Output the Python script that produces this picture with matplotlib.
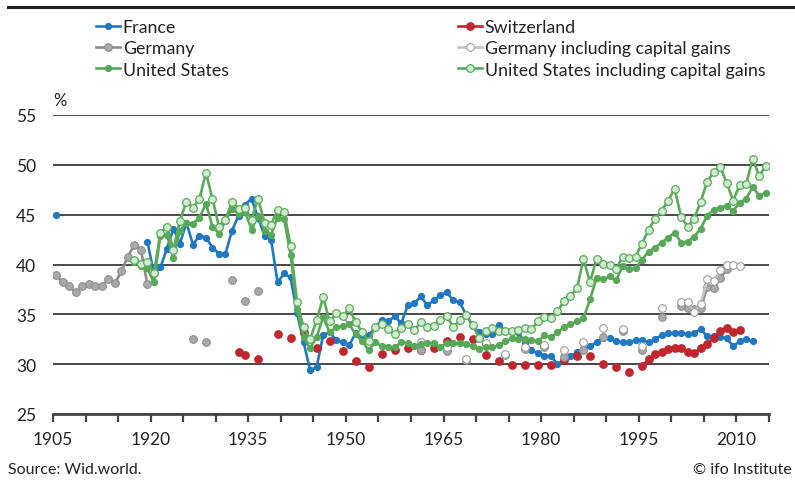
import numpy as np
import pandas as pd
import matplotlib
matplotlib.use('Agg')
import matplotlib.pyplot as plt
from matplotlib.lines import Line2D

plt.rcParams['font.family'] = ['Lato', 'DejaVu Sans']

# Top 10% income share (%)
fr_years = [1905] + list(range(1919, 2013))
fr_vals = [45.0,
           42.3, 39.1, 39.7, 41.6, 43.6, 42.1, 44.2, 42.0, 42.9, 42.7,
           41.7, 41.1, 41.1, 43.4, 44.9, 46.0, 46.6, 44.7, 42.9, 42.5,
           38.2, 39.1, 38.7, 35.1, 32.2, 29.4, 29.7, 32.9, 33.2, 32.4,
           32.2, 31.9, 33.1, 32.7, 32.9, 33.7, 34.4, 34.3, 34.8, 34.1,
           35.9, 36.1, 36.8, 35.9, 36.4, 36.9, 37.2, 36.4, 36.2, 34.9,
           33.8, 33.2, 33.0, 33.0, 33.9, 33.3, 33.3, 33.2, 32.1, 31.4,
           31.1, 30.8, 30.8, 30.0, 30.4, 30.8, 31.2, 31.5, 31.8, 32.2,
           32.6, 32.6, 32.3, 32.2, 32.2, 32.4, 32.4, 32.2, 32.5, 32.9,
           33.1, 33.1, 33.1, 33.0, 33.1, 33.5, 32.8, 32.8, 32.7, 32.6,
           31.8, 32.3, 32.5, 32.3]

ch_years = [1933, 1934, 1936, 1939, 1941, 1943, 1945, 1947, 1949, 1951,
            1953, 1955, 1957, 1959, 1961, 1963, 1965, 1967, 1969, 1971,
            1973, 1975, 1977, 1979, 1981, 1983, 1985, 1987, 1989, 1991,
            1993] + list(range(1995, 2011))
ch_vals = [31.2, 30.9, 30.5, 33.0, 32.6, 33.2, 31.6, 32.3, 31.3, 30.3,
           29.7, 31.0, 31.4, 31.6, 31.4, 31.6, 32.3, 32.7, 32.5, 30.9,
           30.3, 29.9, 29.9, 29.9, 29.9, 30.4, 30.8, 30.8, 30.0, 29.7,
           29.2, 29.8, 30.5, 31.0, 31.2, 31.5, 31.6, 31.6, 31.2, 31.1,
           31.6, 32.0, 32.6, 33.3, 33.6, 33.2, 33.4]

de_years = list(range(1905, 1920)) + [1926, 1928, 1932, 1934, 1936, 1950,
            1961, 1965, 1968, 1971, 1974, 1977, 1980, 1983, 1986, 1989,
            1992, 1995, 1998] + list(range(2001, 2009))
de_vals = [38.9, 38.2, 37.8, 37.2, 37.8, 38.0, 37.8, 37.8, 38.5, 38.1,
           39.3, 40.8, 42.0, 41.5, 38.0,
           32.5, 32.2, 38.4, 36.3, 37.3, 34.5,
           31.4, 31.3, 30.4, 32.0, 30.9, 31.5, 31.7, 30.7, 31.4, 32.7,
           33.3, 31.4, 34.7,
           35.8, 35.6, 35.5, 35.6, 37.7, 37.6, 38.6, 39.5]

de_cg_years = [1950, 1961, 1965, 1968, 1971, 1974, 1977, 1980, 1983,
               1986, 1989, 1992, 1995, 1998] + list(range(2001, 2011))
de_cg_vals = [34.6, 32.2, 31.7, 30.5, 32.1, 31.0, 31.7, 31.9, 31.4,
              32.2, 33.6, 33.5, 31.8, 35.6,
              36.2, 36.2, 35.2, 36.0, 38.5, 38.3, 39.4, 40.0, 39.9, 39.8]

us_years = list(range(1917, 2015))
us_vals = [40.3, 39.8, 39.6, 38.2, 42.9, 43.0, 40.7, 43.4, 44.2, 44.1,
           44.7, 46.1, 43.8, 43.1, 44.4, 45.6, 45.1, 45.3, 43.5, 44.9,
           43.4, 43.0, 44.7, 44.6, 41.0, 35.5, 32.7, 31.6, 32.7, 34.7,
           33.2, 33.7, 33.8, 34.0, 33.0, 32.3, 31.4, 32.2, 31.8, 31.7,
           31.7, 32.2, 32.1, 31.8, 32.0, 32.1, 32.1, 31.7, 32.1, 32.1,
           32.1, 32.0, 31.8, 31.5, 31.7, 31.7, 31.9, 32.3, 32.6, 32.5,
           32.5, 32.4, 32.3, 32.9, 32.7, 33.2, 33.7, 34.0, 34.3, 34.6,
           36.5, 38.6, 38.5, 38.8, 38.4, 39.8, 39.5, 39.6, 40.5, 41.3,
           41.7, 42.2, 42.7, 43.2, 42.2, 42.3, 42.8, 43.6, 44.9, 45.5,
           45.7, 45.9, 45.4, 46.2, 46.6, 47.8, 46.9, 47.2]

us_cg_years = list(range(1917, 2015))
us_cg_vals = [40.5, 40.1, 40.3, 39.1, 43.2, 43.8, 41.5, 44.4, 46.3, 45.7,
              46.6, 49.2, 46.6, 43.8, 44.5, 46.3, 45.6, 45.7, 44.5, 46.6,
              44.2, 44.0, 45.5, 45.3, 41.9, 36.2, 33.7, 32.5, 34.4, 36.7,
              34.3, 35.1, 34.8, 35.6, 34.2, 33.2, 32.3, 33.7, 34.0, 33.5,
              33.0, 33.6, 34.0, 33.4, 34.2, 33.7, 33.8, 34.4, 34.8, 33.7,
              34.4, 34.9, 33.9, 32.6, 33.3, 33.6, 33.3, 33.3, 33.3, 33.4,
              33.6, 33.5, 34.3, 34.7, 34.6, 35.3, 36.3, 36.8, 37.6, 40.6,
              38.2, 40.6, 40.1, 40.0, 39.5, 40.8, 40.7, 40.8, 42.1, 43.5,
              44.6, 45.4, 46.4, 47.6, 44.8, 43.8, 44.6, 46.3, 48.3, 49.3,
              49.8, 48.2, 46.4, 48.0, 48.1, 50.6, 48.9, 49.9]


def annual(years, vals):
    # reindex to every year so that gaps break the line
    s = pd.Series(vals, index=years)
    s = s.reindex(range(min(years), max(years) + 1))
    return s.index.values, s.values


fig = plt.figure(figsize=(7.95, 4.81), dpi=100)
ax = fig.add_axes([53 / 795, 66 / 481, 716 / 795, 299 / 481])

series = [
    ('France', fr_years, fr_vals, dict(color='#1f78c1', mfc='#1f78c1', mec='#1f78c1', ms=4.2, lw=1.9)),
    ('Switzerland', ch_years, ch_vals, dict(color='#c0262d', mfc='#c0262d', mec='#c0262d', ms=5.3, lw=1.9)),
    ('Germany', de_years, de_vals, dict(color='#8c8c8c', mfc='#a9a9a9', mec='#8e8e8e', ms=5.5, lw=1.9, mew=0.8)),
    ('Germany including capital gains', de_cg_years, de_cg_vals, dict(color='#c4c4c4', mfc='white', mec='#9c9c9c', ms=5.5, lw=1.9, mew=0.8)),
    ('United States', us_years, us_vals, dict(color='#57a957', mfc='#57a957', mec='#57a957', ms=4.2, lw=1.9)),
    ('United States including capital gains', us_cg_years, us_cg_vals, dict(color='#5aab5a', mfc='#d3ebd3', mec='#5aab5a', ms=5.5, lw=1.9, mew=0.9)),
]

handles = {}
for i, (name, yrs, vals, st) in enumerate(series):
    x, y = annual(yrs, vals)
    ax.plot(x, y, marker='o', zorder=3 + i, **st)
    handles[name] = Line2D([], [], marker='o', **st)

ax.set_xlim(1904.5, 2014.5)
ax.set_ylim(25, 55)
ax.set_yticks([25, 30, 35, 40, 45, 50, 55])
ax.grid(axis='y', color='#3a3a3a', lw=1.3)
ax.set_axisbelow(True)
ax.tick_params(axis='y', length=0, pad=12, labelsize=12.5, labelcolor='#222222')

ax.set_xticks(np.arange(1904.5, 2015, 15))
ax.set_xticklabels([str(y) for y in range(1905, 2015, 15)])
ax.set_xticks(np.arange(1904.5, 2015, 5), minor=True)
ax.tick_params(axis='x', which='both', length=6, width=1.6, color='#444444',
               direction='out', pad=6, labelsize=12.5, labelcolor='#222222')

for side in ['top', 'right', 'left']:
    ax.spines[side].set_visible(False)
ax.spines['bottom'].set_color('#444444')
ax.spines['bottom'].set_linewidth(2)

fig.text(53 / 795, 1 - 101 / 481, '%', fontsize=12, color='#222222', va='center', ha='left')

# legend in two columns
left_names = ['France', 'Germany', 'United States']
right_names = ['Switzerland', 'Germany including capital gains', 'United States including capital gains']
leg_kw = dict(loc='upper left', frameon=False, fontsize=12.8, handlelength=1.35,
              handletextpad=0.15, labelspacing=0.3, borderaxespad=0, borderpad=0)
leg1 = fig.legend([handles[n] for n in left_names], left_names,
                  bbox_to_anchor=(96 / 795, 1 - 20 / 481), **leg_kw)
leg2 = fig.legend([handles[n] for n in right_names], right_names,
                  bbox_to_anchor=(458 / 795, 1 - 20 / 481), **leg_kw)
for leg in (leg1, leg2):
    for t in leg.get_texts():
        t.set_color('#222222')

# top rule
fig.add_artist(Line2D([8 / 795, 1], [1 - 8 / 481, 1 - 8 / 481], color='#222222', lw=2.2))

fig.text(8 / 795, 1 - 470 / 481, 'Source: Wid.world.', fontsize=11.5, color='#222222', va='center', ha='left')
fig.text(792 / 795, 1 - 470 / 481, '\u00a9 ifo Institute', fontsize=11.5, color='#222222', va='center', ha='right')

fig.savefig('out.png', dpi=100)
